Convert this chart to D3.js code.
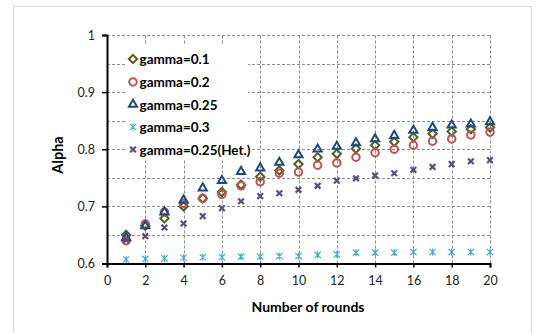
<!DOCTYPE html>
<html>
<head>
<meta charset="utf-8">
<script src="https://cdn.jsdelivr.net/npm/d3@7"></script>
<style>
body { margin: 0; background: #fff; }
text { font-family: Lato, "Open Sans", sans-serif; }
</style>
</head>
<body>
<div id="chart"></div>
<script>
// rounds 1..20
var rounds = d3.range(1, 21);
var xTicks = [0, 2, 4, 6, 8, 10, 12, 14, 16, 18, 20];
var yTicks = [0.6, 0.7, 0.8, 0.9, 1];

var seriesNames = ['gamma=0.1', 'gamma=0.2', 'gamma=0.25', 'gamma=0.3', 'gamma=0.25(Het.)'];

var gamma01 = [0.650, 0.666, 0.679, 0.700, 0.714, 0.725, 0.738, 0.752, 0.763, 0.774,
	0.786, 0.792, 0.801, 0.807, 0.813, 0.821, 0.827, 0.831, 0.835, 0.838];
var gamma02 = [0.640, 0.669, 0.690, 0.705, 0.714, 0.721, 0.736, 0.743, 0.758, 0.760,
	0.772, 0.776, 0.786, 0.794, 0.800, 0.807, 0.814, 0.818, 0.825, 0.830];
var gamma025 = [0.645, 0.666, 0.690, 0.711, 0.732, 0.745, 0.761, 0.767, 0.777, 0.790,
	0.800, 0.805, 0.811, 0.818, 0.824, 0.833, 0.838, 0.842, 0.844, 0.848];
var gamma03 = [0.607, 0.608, 0.609, 0.610, 0.611, 0.611, 0.612, 0.612, 0.613, 0.613,
	0.615, 0.616, 0.619, 0.619, 0.619, 0.620, 0.620, 0.620, 0.620, 0.620];
var gamma025het = [0.641, 0.648, 0.663, 0.670, 0.683, 0.697, 0.709, 0.718, 0.723, 0.729,
	0.736, 0.745, 0.749, 0.754, 0.758, 0.764, 0.769, 0.774, 0.779, 0.781];

var colors = ['#4f6228', '#c0504d', '#1f497d', '#4bacc6', '#604a7b'];

// excel style star: x with vertical bar
var symbolStar = {
	draw: function(ctx, size) {
		var r = Math.sqrt(size) / 2;
		ctx.moveTo(-r, -r); ctx.lineTo(r, r);
		ctx.moveTo(-r, r); ctx.lineTo(r, -r);
		ctx.moveTo(0, -r * 1.15); ctx.lineTo(0, r * 1.15);
	}
};
var symbolX = {
	draw: function(ctx, size) {
		var r = Math.sqrt(size) / 2;
		ctx.moveTo(-r, -r); ctx.lineTo(r, r);
		ctx.moveTo(-r, r); ctx.lineTo(r, -r);
	}
};
var shapes = [d3.symbolDiamond2, d3.symbolCircle, d3.symbolTriangle2, symbolStar, symbolX];
var sizes = [44, 44, 48, 40, 32];
var strokes = [2, 2, 2, 1.2, 2.2];

var allData = [gamma01, gamma02, gamma025, gamma03, gamma025het];

var width = 537, height = 333;
var svg = d3.select('#chart').append('svg')
	.attr('width', width)
	.attr('height', height);

svg.append('rect')
	.attr('x', 13.5).attr('y', 6.5)
	.attr('width', 518).attr('height', 340)
	.attr('fill', '#fff')
	.attr('stroke', '#d9d9d9');

var x = d3.scaleLinear().domain([0, 20]).range([107, 490]);
var y = d3.scaleLinear().domain([0.6, 1]).range([263.5, 35]);

// grid
var grid = svg.append('g');
grid.selectAll('.hg').data(d3.range(0.65, 1.001, 0.05)).enter().append('line')
	.attr('x1', x(0)).attr('x2', x(20))
	.attr('y1', d => Math.round(y(d)) + 0.5).attr('y2', d => Math.round(y(d)) + 0.5)
	.attr('stroke', '#8c8c8c').attr('stroke-width', 1).attr('stroke-dasharray', '3,2');
grid.selectAll('.vg').data(xTicks.slice(1)).enter().append('line')
	.attr('y1', y(0.6)).attr('y2', y(1))
	.attr('x1', d => Math.round(x(d)) + 0.5).attr('x2', d => Math.round(x(d)) + 0.5)
	.attr('stroke', '#8c8c8c').attr('stroke-width', 1).attr('stroke-dasharray', '3,2');

// legend background hides grid
svg.append('rect')
	.attr('x', 127).attr('y', 45)
	.attr('width', 121).attr('height', 114)
	.attr('fill', '#fff');

// axes
var xAxis = svg.append('g')
	.attr('transform', 'translate(0,' + y(0.6) + ')')
	.call(d3.axisBottom(x).tickValues(xTicks).tickSize(4).tickPadding(9));
var yAxis = svg.append('g')
	.attr('transform', 'translate(' + x(0) + ',0)')
	.call(d3.axisLeft(y).tickValues(yTicks).tickSize(5).tickPadding(7).tickFormat(d3.format('')));
[xAxis, yAxis].forEach(function(a) {
	a.select('.domain').attr('stroke', '#000').attr('stroke-width', 2);
	a.selectAll('.tick line').attr('stroke', '#000').attr('stroke-width', 1.5);
	a.selectAll('.tick text').attr('fill', '#222').style('font-size', '12.5px')
		.style('font-family', 'Lato, sans-serif');
});

// points
allData.forEach(function(vals, i) {
	var sym = d3.symbol().type(shapes[i]).size(sizes[i]);
	svg.append('g').selectAll('path').data(vals).enter().append('path')
		.attr('transform', (d, j) => 'translate(' + x(rounds[j]) + ',' + y(d) + ')')
		.attr('d', sym)
		.attr('fill', 'none')
		.attr('stroke', colors[i])
		.attr('stroke-width', strokes[i]);
});

// legend
var legend = svg.append('g');
var rowY = [59, 82, 104.5, 127, 149.5];
seriesNames.forEach(function(name, i) {
	legend.append('path')
		.attr('transform', 'translate(133,' + rowY[i] + ')')
		.attr('d', d3.symbol().type(shapes[i]).size(sizes[i]))
		.attr('fill', 'none')
		.attr('stroke', colors[i])
		.attr('stroke-width', strokes[i]);
	legend.append('text')
		.attr('x', 139.5).attr('y', rowY[i] + 5)
		.style('font-size', '13.5px').style('font-weight', 'bold')
		.text(name);
});

// axis titles
svg.append('text')
	.attr('transform', 'translate(63,155) rotate(-90)')
	.attr('text-anchor', 'middle')
	.style('font-size', '14.5px').style('font-weight', 'bold')
	.text('Alpha');
svg.append('text')
	.attr('x', 308).attr('y', 312)
	.attr('text-anchor', 'middle')
	.style('font-size', '14px').style('font-weight', 'bold')
	.text('Number of rounds');
</script>
</body>
</html>
